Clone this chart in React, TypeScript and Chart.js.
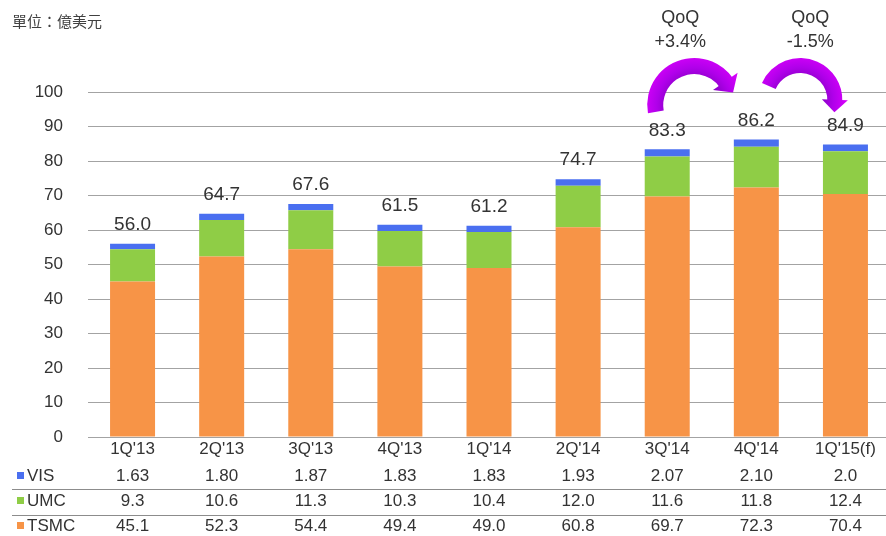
import React, { useEffect, useRef } from "react";
import { Chart, registerables } from "chart.js";

Chart.register(...registerables);

const categories = ["1Q'13", "2Q'13", "3Q'13", "4Q'13", "1Q'14", "2Q'14", "3Q'14", "4Q'14", "1Q'15(f)"];
const visValues = [1.63, 1.8, 1.87, 1.83, 1.83, 1.93, 2.07, 2.1, 2.0];
const visDecimals = [2, 2, 2, 2, 2, 2, 2, 2, 1];
const umcValues = [9.3, 10.6, 11.3, 10.3, 10.4, 12.0, 11.6, 11.8, 12.4];
const tsmcValues = [45.1, 52.3, 54.4, 49.4, 49.0, 60.8, 69.7, 72.3, 70.4];
const totalLabels = [56.0, 64.7, 67.6, 61.5, 61.2, 74.7, 83.3, 86.2, 84.9];
const qoqNotes = [
  { from: 6, text: "+3.4%" },
  { from: 7, text: "-1.5%" },
];
const unitLabel = "單位：億美元";
const yMax = 100;
const yStep = 10;

const COLORS = { vis: "#4a6ff0", umc: "#8fcd46", tsmc: "#f79447" };
const FONT = "'Liberation Sans', Arial, sans-serif";
const TEXT = "#333333";

function drawCurvedArrow(
  ctx: CanvasRenderingContext2D,
  cx: number,
  cy: number,
  R: number,
  w: number,
  a0deg: number,
  a1deg: number,
  headHalf: number,
  headLen: number
) {
  const a0 = (a0deg * Math.PI) / 180;
  const a1 = (a1deg * Math.PI) / 180;
  const grad = ctx.createRadialGradient(cx, cy, R - w, cx, cy, R + w);
  grad.addColorStop(0, "#8400c0");
  grad.addColorStop(0.45, "#b000ea");
  grad.addColorStop(1, "#e000ff");
  ctx.save();
  ctx.fillStyle = grad;
  ctx.beginPath();
  ctx.arc(cx, cy, R + w / 2, a0, a1, false);
  ctx.arc(cx, cy, R - w / 2, a1, a0, true);
  ctx.closePath();
  ctx.fill();
  const mx = cx + R * Math.cos(a1);
  const my = cy + R * Math.sin(a1);
  const tx = -Math.sin(a1);
  const ty = Math.cos(a1);
  const ox = Math.cos(a1);
  const oy = Math.sin(a1);
  ctx.beginPath();
  ctx.moveTo(mx + ox * headHalf - tx * 1.5, my + oy * headHalf - ty * 1.5);
  ctx.lineTo(mx - ox * headHalf - tx * 1.5, my - oy * headHalf - ty * 1.5);
  ctx.lineTo(mx + tx * headLen, my + ty * headLen);
  ctx.closePath();
  ctx.fill();
  ctx.restore();
}

const overlayPlugin = {
  id: "overlay",
  afterDraw(chart: any) {
    const ctx: CanvasRenderingContext2D = chart.ctx;
    const xs = chart.scales.x;
    const ys = chart.scales.y;
    ctx.save();

    // unit label
    ctx.fillStyle = "#404040";
    ctx.font = "15px 'Noto Sans CJK TC', sans-serif";
    ctx.textAlign = "left";
    ctx.textBaseline = "middle";
    ctx.fillText(unitLabel, 12, 21);

    // totals above bars
    ctx.font = `19px ${FONT}`;
    ctx.fillStyle = TEXT;
    ctx.textAlign = "center";
    ctx.textBaseline = "middle";
    categories.forEach((_, i) => {
      const top = tsmcValues[i] + umcValues[i] + visValues[i];
      ctx.fillText(totalLabels[i].toFixed(1), xs.getPixelForValue(i), ys.getPixelForValue(top) - 19);
    });

    // table
    const width = chart.width;
    const catY = 449;
    const rows = [
      { name: "VIS", color: COLORS.vis, vals: visValues.map((v, i) => v.toFixed(visDecimals[i])), y: 476 },
      { name: "UMC", color: COLORS.umc, vals: umcValues.map((v) => v.toFixed(1)), y: 501 },
      { name: "TSMC", color: COLORS.tsmc, vals: tsmcValues.map((v) => v.toFixed(1)), y: 526 },
    ];
    ctx.font = `17px ${FONT}`;
    ctx.fillStyle = TEXT;
    categories.forEach((c, i) => ctx.fillText(c, xs.getPixelForValue(i), catY));

    ctx.strokeStyle = "#8c8c8c";
    ctx.lineWidth = 1;
    [489.5, 515.5].forEach((ly) => {
      ctx.beginPath();
      ctx.moveTo(12, ly);
      ctx.lineTo(width, ly);
      ctx.stroke();
    });

    rows.forEach((r) => {
      ctx.fillStyle = r.color;
      ctx.fillRect(17, r.y - 4, 7, 7);
      ctx.fillStyle = TEXT;
      ctx.textAlign = "left";
      ctx.fillText(r.name, 27, r.y);
      ctx.textAlign = "center";
      r.vals.forEach((v, i) => ctx.fillText(v, xs.getPixelForValue(i), r.y));
    });

    // QoQ arrows
    const cy1 = ys.getPixelForValue(yMax) + 13;
    const cy2 = ys.getPixelForValue(yMax) + 8;
    const x6 = xs.getPixelForValue(qoqNotes[0].from);
    const x7 = xs.getPixelForValue(qoqNotes[1].from);
    drawCurvedArrow(ctx, x6 + 27, cy1, 39, 16, 170, 325, 15, 12);
    drawCurvedArrow(ctx, x7 + 44, cy2, 34.5, 15, 204, 362, 13, 11);

    ctx.fillStyle = TEXT;
    ctx.font = `18px ${FONT}`;
    ctx.textAlign = "center";
    const tx1 = x6 + 13;
    const tx2 = x7 + 54;
    [tx1, tx2].forEach((tx, k) => {
      ctx.fillText("QoQ", tx, 18);
      ctx.fillText(qoqNotes[k].text, tx, 42);
    });

    ctx.restore();
  },
};

export default function App() {
  const ref = useRef<HTMLCanvasElement | null>(null);
  useEffect(() => {
    if (!ref.current) return;
    const chart = new Chart(ref.current, {
      type: "bar",
      data: {
        labels: categories,
        datasets: [
          { label: "TSMC", data: tsmcValues, backgroundColor: COLORS.tsmc },
          { label: "UMC", data: umcValues, backgroundColor: COLORS.umc },
          { label: "VIS", data: visValues, backgroundColor: COLORS.vis },
        ],
      },
      options: {
        responsive: false,
        animation: false,
        layout: { padding: { top: 92, right: 2, bottom: 0, left: 0 } },
        datasets: { bar: { barPercentage: 0.505, categoryPercentage: 1 } },
        plugins: { legend: { display: false }, tooltip: { enabled: false } },
        scales: {
          x: {
            stacked: true,
            grid: { display: false },
            border: { display: false },
            ticks: { display: false },
            afterFit: (s: any) => {
              s.height = 99;
              s.paddingLeft = 0;
              s.paddingRight = 0;
            },
          },
          y: {
            stacked: true,
            min: 0,
            max: yMax,
            border: { display: false },
            grid: { color: "#a3a3a3", drawTicks: false, lineWidth: 1 },
            ticks: {
              stepSize: yStep,
              padding: 25,
              color: TEXT,
              font: { family: FONT, size: 17 },
            },
            afterFit: (s: any) => {
              s.width = 88;
              s.paddingTop = 0;
              s.paddingBottom = 0;
            },
          },
        },
      },
      plugins: [overlayPlugin],
    });
    return () => chart.destroy();
  }, []);
  return (
    <div style={{ position: "fixed", left: 0, top: 0, width: 886, height: 536, overflow: "hidden", background: "#fff" }}>
      <canvas ref={ref} width={892} height={536} style={{ display: "block" }} />
    </div>
  );
}
